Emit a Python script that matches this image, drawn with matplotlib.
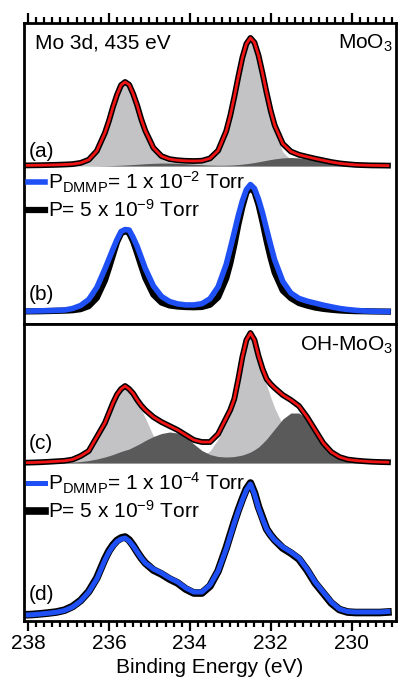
import matplotlib
matplotlib.use('Agg')
import matplotlib.pyplot as plt
import numpy as np
from matplotlib.ticker import MultipleLocator

plt.rcParams['font.family'] = ['Liberation Sans', 'DejaVu Sans']
plt.rcParams['mathtext.default'] = 'regular'
plt.rcParams['font.size'] = 15

# binding energy grid (eV), finer around the two Mo 3d peaks
energy = [238.1, 237.9, 237.7, 237.5, 237.3, 237.1, 236.9, 236.7, 236.5, 236.3, 236.1,
          236.0, 235.9, 235.8, 235.7, 235.6, 235.5, 235.4, 235.3, 235.2, 235.1,
          234.9, 234.7, 234.5, 234.3, 234.1, 233.9, 233.7, 233.5, 233.3, 233.1,
          233.0, 232.9, 232.8, 232.7, 232.6, 232.5, 232.4, 232.3, 232.2, 232.1, 232.0, 231.9,
          231.7, 231.5, 231.3, 231.1, 230.9, 230.7, 230.5, 230.3, 230.1, 229.9, 229.7, 229.5, 229.3, 229.1]

# (a) MoO3 fit components (intensity above baseline, a.u.)
a_main = [0.6, 0.7, 0.8, 1.0, 1.2, 1.5, 1.9, 3.1, 6.2, 14.9, 32.8,
          44.7, 58.5, 70.6, 80.1, 83.0, 80.1, 70.6, 58.7, 44.7, 33.0,
          15.5, 6.9, 3.9, 3.0, 2.9, 3.2, 4.0, 6.7, 14.7, 34.0,
          49.3, 67.8, 87.8, 106.5, 119.9, 125.2, 119.9, 106.3, 87.5, 67.4, 48.8, 33.5,
          14.1, 6.0, 3.1, 2.1, 1.6, 1.4, 1.1, 0.9, 0.8, 0.6, 0.6, 0.5, 0.5, 0.4]
a_shoulder = [0, 0, 0, 0, 0, 0, 0, 0.03, 0.06, 0.13, 0.26,
              0.36, 0.48, 0.63, 0.81, 1.02, 1.25, 1.5, 1.76, 2.03, 2.29,
              2.72, 2.97, 2.97, 2.72, 2.29, 1.77, 1.29, 0.92, 0.74, 0.8,
              0.95, 1.15, 1.45, 1.85, 2.33, 2.88, 3.5, 4.25, 5.0, 5.75, 6.5, 7.15,
              8.14, 8.5, 8.14, 7.15, 5.75, 4.25, 2.88, 1.79, 1.02, 0.54, 0.26, 0.11, 0.04, 0.01]

# (b) MoO3 under DMMP vs vacuum
b_dmmp = [0.9, 1.0, 1.2, 1.4, 1.7, 2.0, 3.5, 6.5, 12.5, 24.5, 43.0,
          53.0, 63.0, 72.5, 80.5, 82.5, 82.0, 74.5, 65.5, 54.5, 43.5,
          26.1, 15.6, 10.5, 8.1, 7.1, 7.1, 8.3, 13.3, 25.2, 47.6,
          63.5, 79.7, 96.5, 111.2, 122.5, 127.5, 123.5, 112.7, 99.0, 82.8, 67.0, 52.0,
          30.6, 19.0, 13.6, 10.9, 8.9, 6.9, 5.2, 3.6, 2.5, 1.7, 1.1, 0.8, 0.6, 0.5]
b_vac = [0.6, 0.7, 0.8, 1.0, 1.2, 1.4, 1.8, 2.9, 5.9, 14.2, 31.6,
         44.0, 57.0, 70.0, 78.6, 81.0, 79.0, 70.5, 58.6, 46.0, 34.0,
         17.4, 9.5, 6.6, 5.5, 5.0, 4.8, 5.1, 7.3, 14.8, 33.6,
         48.5, 66.9, 87.5, 105.2, 119.5, 124.3, 120.0, 107.3, 90.0, 71.0, 54.0, 39.4,
         21.4, 13.9, 9.0, 6.5, 4.5, 3.2, 2.3, 1.6, 1.2, 0.9, 0.8, 0.6, 0.5, 0.4]

# (c) OH-MoO3 fit components and envelope
c_main = [0.3, 0.5, 0.8, 1.2, 1.7, 2.2, 3.5, 7, 12, 26, 40,
          50, 60, 68.5, 74, 77, 74, 69, 62, 53.5, 45,
          27, 15, 8, 5, 4, 4.5, 7, 12, 24, 40,
          49, 60, 80, 104, 122, 130, 122, 105, 89, 78, 66, 55,
          38, 24, 14, 8, 4.5, 2.5, 1.5, 1.2, 1.0, 0.9, 0.8, 0.7, 0.6, 0.5]
c_shoulder = [0, 0, 0, 0, 0, 0.3, 0.8, 1.5, 2.5, 4.0, 6.0,
              7.2, 8.5, 10.0, 11.5, 12.8, 14.0, 16.0, 18.0, 20.2, 22.5,
              26.5, 29.5, 31.0, 30.0, 26.0, 19.0, 12.5, 8.5, 6.5, 6.0,
              6.2, 6.5, 7.2, 8.0, 9.4, 11.0, 13.3, 16.0, 19.8, 24.0, 29.0, 34.0,
              44.0, 50.0, 50.0, 44.0, 33.0, 20.0, 10.0, 4.5, 2.0, 1.0, 0.5, 0.2, 0.1, 0]
c_fit = [0.3, 0.5, 0.8, 1.2, 1.7, 2.2, 3.5, 7, 12, 26, 40,
         50, 60, 68.5, 74, 77, 74, 69.5, 63, 57.5, 53,
         46, 41, 37, 33, 28, 23, 21, 21, 29, 45,
         53, 64, 84, 106, 123, 130, 123, 107, 94, 84, 79, 75,
         68, 63, 57, 46, 33, 20, 11, 6, 3.5, 2.5, 1.8, 1.3, 1.0, 0.8]

# (d) OH-MoO3 under DMMP vs vacuum
d_dmmp = [0, 0.3, 1.0, 1.8, 2.8, 4.5, 8, 14, 23, 36, 55,
          63, 69, 73.5, 76, 77, 74, 69, 63, 57, 52,
          46, 42, 37, 33, 27, 23, 23, 30, 44, 66,
          79, 92, 104, 115, 125, 131, 121, 107, 96, 86, 80, 75,
          68, 63, 57, 46, 33, 23, 13, 6, 3.5, 3, 3, 3, 3, 3.5]
d_vac = [0.2, 0.5, 1.2, 2.0, 3.0, 4.8, 8.5, 14.5, 23.5, 37, 56,
         64, 70, 74.5, 77, 78, 75, 69.5, 63, 57, 52,
         45, 41, 36, 32, 26, 22, 22, 29, 44, 67,
         80, 93, 105, 116, 126, 132, 122, 108, 97, 86, 80, 75,
         67, 62, 56, 45, 32, 22, 12, 5.5, 3.0, 2.5, 2.5, 2.5, 2.5, 3.0]

light = '#c3c3c5'
dark = '#5a5a5a'
red = '#f01414'
blue = '#1f50f5'

energy = np.array(energy)

fig = plt.figure(figsize=(3.99, 6.79), dpi=100)
ax1 = fig.add_axes([0.0602, 0.5228, 0.9323, 0.4433])
ax2 = fig.add_axes([0.0602, 0.0854, 0.9323, 0.4374])


def fitted(ax, off, main, shoulder, fit):
    ax.fill_between(energy, off, off + np.array(main), color=light, lw=0)
    ax.fill_between(energy, off, off + np.array(shoulder), color=dark, lw=0)
    ax.plot(energy, off + np.array(fit), color='black', lw=4.2, solid_joinstyle='round')
    ax.plot(energy, off + np.array(fit), color=red, lw=2.0, solid_joinstyle='round')


def compare(ax, off, dmmp, vac, p_label, lw_vac, lw_dmmp, anchor):
    l_vac, = ax.plot(energy, off + np.array(vac), color='black', lw=lw_vac,
                     solid_joinstyle='round')
    l_dmmp, = ax.plot(energy, off + np.array(dmmp), color=blue, lw=lw_dmmp,
                      solid_joinstyle='round')
    ax.legend([l_dmmp, l_vac], [p_label, 'P= 5 x 10$^{-9}$ Torr'],
              loc='upper left', bbox_to_anchor=anchor, frameon=False,
              handlelength=0.8, handletextpad=0.15, borderaxespad=0,
              borderpad=0, labelspacing=0.2, fontsize=15)


# top panel: (a) fit, (b) comparison
a_fit = np.array(a_main) + np.array(a_shoulder)
fitted(ax1, 158, a_main, a_shoulder, a_fit)
compare(ax1, 12, b_dmmp, b_vac, 'P$_{DMMP}$= 1 x 10$^{-2}$ Torr', 4.5, 4.0, (0.012, 0.512))

# bottom panel: (c) fit, (d) comparison
fitted(ax2, 158, c_main, c_shoulder, c_fit)
compare(ax2, 6, d_dmmp, d_vac, 'P$_{DMMP}$= 1 x 10$^{-4}$ Torr', 5.5, 3.6, (0.012, 0.505))

for ax in (ax1, ax2):
    ax.set_xlim(238.1, 228.9)
    ax.xaxis.set_major_locator(MultipleLocator(2))
    ax.xaxis.set_minor_locator(MultipleLocator(0.2))
    ax.set_yticks([])
    for s in ax.spines.values():
        s.set_linewidth(2.0)
    ax.tick_params(axis='x', which='major', length=7, width=1.6, direction='out')
    ax.tick_params(axis='x', which='minor', length=4, width=1.6, direction='out')

ax1.set_ylim(0, 301)
ax2.set_ylim(0, 297)
ax1.tick_params(axis='x', which='both', top=True, bottom=False,
                labeltop=False, labelbottom=False)
ax2.tick_params(axis='x', which='both', top=False, bottom=True, labelsize=15, pad=2)
ax2.set_xlabel('Binding Energy (eV)', fontsize=15, labelpad=4)

ax1.text(0.03, 0.914, 'Mo 3d, 435 eV', transform=ax1.transAxes, fontsize=15)
ax1.text(0.992, 0.914, 'MoO$_3$', transform=ax1.transAxes, fontsize=15, ha='right')
ax1.text(0.013, 0.555, '(a)', transform=ax1.transAxes, fontsize=15)
ax1.text(0.013, 0.08, '(b)', transform=ax1.transAxes, fontsize=15)
ax2.text(0.992, 0.91, 'OH-MoO$_3$', transform=ax2.transAxes, fontsize=15, ha='right')
ax2.text(0.013, 0.579, '(c)', transform=ax2.transAxes, fontsize=15)
ax2.text(0.013, 0.071, '(d)', transform=ax2.transAxes, fontsize=15)

fig.savefig('out.png', dpi=100)
